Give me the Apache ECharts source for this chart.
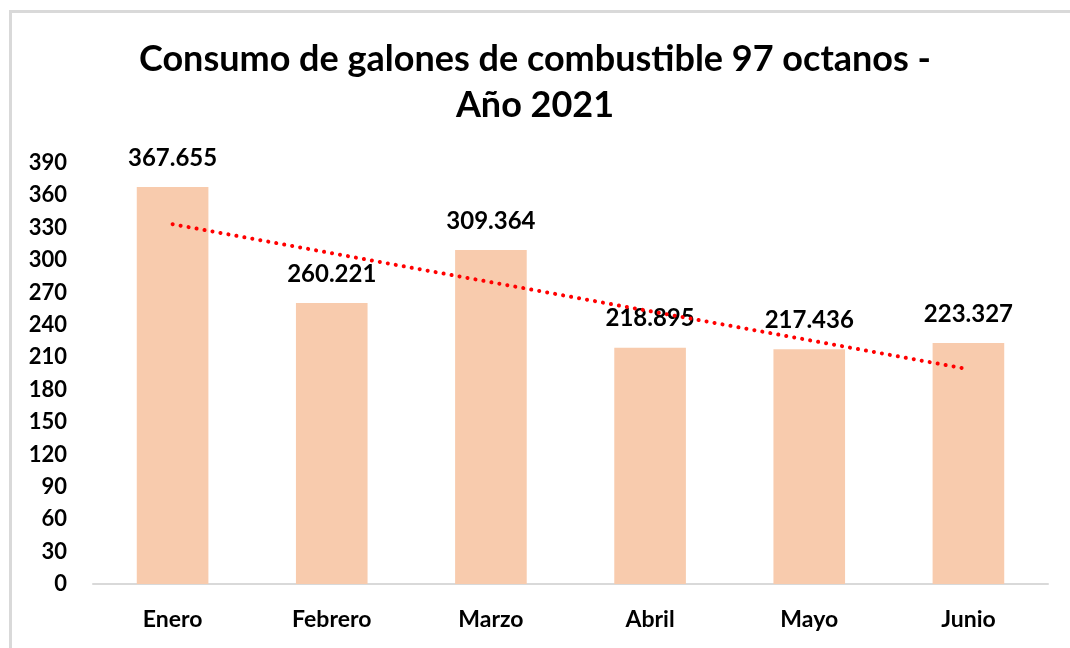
<!DOCTYPE html>
<html>
<head>
<meta charset="utf-8">
<script src="https://cdn.jsdelivr.net/npm/echarts@6/dist/echarts.min.js"></script>
<style>
html,body{margin:0;padding:0;background:#fff;}
#c{width:1070px;height:648px;}
</style>
</head>
<body>
<div id="c"></div>
<script>
var titleText = 'Consumo de galones de combustible 97 octanos -\nAño 2021';
var categories = ['Enero', 'Febrero', 'Marzo', 'Abril', 'Mayo', 'Junio'];
var consumo = [367.655, 260.221, 309.364, 218.895, 217.436, 223.327];
// linear trendline endpoints (first and last month)
var trend = [333.3, null, null, null, null, 199.0];
var yMin = 0, yMax = 390, yStep = 30;

var FONT = 'Lato';
var chart = echarts.init(document.getElementById('c'), null, {renderer: 'canvas'});
chart.setOption({
  animation: false,
  backgroundColor: '#ffffff',
  graphic: [{
    type: 'rect', left: 8, top: 9, silent: true,
    shape: {x: 0, y: 0, width: 1200, height: 800},
    style: {fill: 'none', stroke: '#d9d9d9', lineWidth: 3}
  }],
  title: {
    text: titleText,
    left: 'center', top: 31,
    textStyle: {fontFamily: FONT, fontWeight: 'bold', fontSize: 36, color: '#000', lineHeight: 46}
  },
  grid: {left: 93, right: 22, top: 163, bottom: 64, containLabel: false},
  xAxis: {
    type: 'category', data: categories,
    axisLine: {lineStyle: {color: '#d9d9d9', width: 2}},
    axisTick: {show: false},
    axisLabel: {fontFamily: FONT, fontWeight: 'bold', fontSize: 23, color: '#000', margin: 24}
  },
  yAxis: {
    type: 'value', min: yMin, max: yMax, interval: yStep,
    axisLine: {show: false}, axisTick: {show: false},
    splitLine: {show: false},
    axisLabel: {fontFamily: FONT, fontWeight: 'bold', fontSize: 22, color: '#000', margin: 26, align: 'right'}
  },
  series: [{
    type: 'bar', data: consumo,
    barWidth: '45%',
    itemStyle: {color: '#F8CBAD'},
    label: {
      show: true, position: 'top', distance: 17,
      fontFamily: FONT, fontWeight: 'bold', fontSize: 24, color: '#000',
      formatter: function (p) { return p.value.toFixed(3); }
    },
    z: 2
  }, {
    type: 'line', data: trend, connectNulls: true,
    symbol: 'none',
    lineStyle: {color: '#ff0000', width: 4, type: [0.1, 8], cap: 'round'},
    z: 3
  }]
});
</script>
</body>
</html>
